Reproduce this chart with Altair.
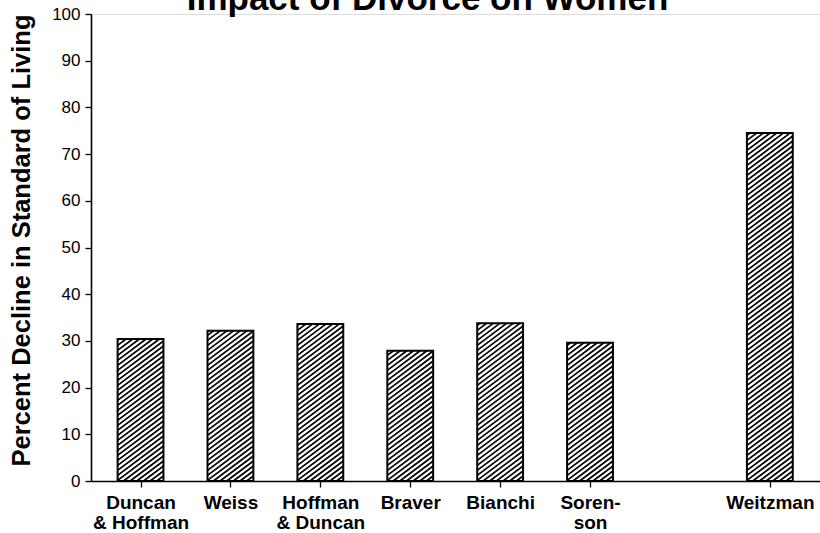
import json
import altair as alt
import pandas as pd

# ---- data ----
studies = ["Duncan & Hoffman", "Weiss", "Hoffman & Duncan", "Braver",
           "Bianchi", "Sorenson", "Weitzman"]
label_lines = [["Duncan", "& Hoffman"], ["Weiss"], ["Hoffman", "& Duncan"],
               ["Braver"], ["Bianchi"], ["Soren-", "son"], ["Weitzman"]]
decline = [30.4, 32.2, 33.6, 27.9, 33.8, 29.6, 74.5]
group = ["panel", "panel", "panel", "panel", "panel", "panel", "single"]
y_ticks = list(range(0, 101, 10))

# slot index along the axis: one empty slot between groups
slot = []
gaps = 0
for i, g in enumerate(group):
    if i > 0 and g != group[i - 1]:
        gaps += 1
    slot.append(i + gaps)

df = pd.DataFrame({"study": studies, "decline": decline, "slot": slot})

# ---- layout ----
W, H = 729, 467
X0, X1 = -0.551, 7.558          # x domain in slot units
HW = 0.255                      # half bar width, slot units
PX_X = W / (X1 - X0)
PX_Y = H / 100.0
SLOPE = 0.75                    # hatch slope in pixels (rise/run)
SPACING = 5.0                   # vertical hatch spacing in pixels
M = SLOPE * PX_X / PX_Y         # slope in data units
DELTA = SPACING / PX_Y

FONT = "Liberation Sans"

expr = "''"
for s, lines in zip(reversed(slot), reversed(label_lines)):
    expr = f"datum.value == {s} ? {json.dumps(lines)} : ({expr})"

xscale = alt.Scale(domain=[X0, X1], nice=False, zero=False)
yscale = alt.Scale(domain=[0, 100], nice=False)

x_axis = alt.Axis(
    values=slot, labelExpr=expr, title=None, grid=False,
    tickSize=6, tickColor="black", domainColor="black",
    domainWidth=1.6, tickWidth=1.3,
    labelFont=FONT, labelFontSize=19, labelFontWeight="bold",
    labelColor="black", labelLineHeight=20, labelPadding=6,
    labelFlush=False, labelOverlap=False)
y_axis = alt.Axis(
    values=y_ticks, grid=False, tickSize=6, tickColor="black",
    domainColor="black", domainWidth=1.6, tickWidth=1.3,
    labelFont=FONT, labelFontSize=17, labelColor="black",
    labelPadding=5,
    title="Percent Decline in Standard of Living",
    titleFont=FONT, titleFontSize=25.5, titleFontWeight="bold",
    titleColor="black", titlePadding=17, titleY=226)

base = alt.Chart(df).transform_calculate(
    xl=f"datum.slot - {HW}", xr=f"datum.slot + {HW}", zero="0"
)

fill = base.mark_bar(color="white", strokeWidth=0).encode(
    x=alt.X("xl:Q", scale=xscale, axis=x_axis),
    x2="xr:Q",
    y=alt.Y("decline:Q", scale=yscale, axis=y_axis, stack=None),
    y2="zero:Q",
)

hatch = base.transform_calculate(
    k="sequence(0, 120)"
).transform_flatten(["k"]).transform_calculate(
    c=f"-{M * 2 * HW} + datum.k * {DELTA}"
).transform_filter(
    "datum.c < datum.decline"
).transform_calculate(
    hx1=f"datum.xl + max(0, -datum.c / {M})",
    hy1="max(0, datum.c)",
    hx2=f"datum.xl + min({2 * HW}, (datum.decline - datum.c) / {M})",
    hy2=f"min(datum.decline, datum.c + {M * 2 * HW})",
).transform_filter("datum.hx2 > datum.hx1").mark_rule(
    color="black", strokeWidth=1.7
).encode(
    x=alt.X("hx1:Q", scale=xscale, axis=x_axis),
    x2="hx2:Q",
    y=alt.Y("hy1:Q", scale=yscale, axis=y_axis),
    y2="hy2:Q",
)

outline = base.mark_bar(fillOpacity=0, stroke="black", strokeWidth=2).encode(
    x=alt.X("xl:Q", scale=xscale, axis=x_axis),
    x2="xr:Q",
    y=alt.Y("decline:Q", scale=yscale, axis=y_axis, stack=None),
    y2="zero:Q",
)

chart = alt.layer(fill, hatch, outline).properties(
    width=W, height=H,
    title=alt.TitleParams(
        "Impact of Divorce on Women", font=FONT, fontSize=35,
        fontWeight="bold", color="black", anchor="middle", frame="group",
        baseline="alphabetic", offset=0, dy=40, dx=-28),
    autosize=alt.AutoSizeParams(type="none"),
    padding={"left": 91, "top": 14, "right": 0, "bottom": 52},
).configure_view(stroke=None).configure(background="white")

chart.save("out.html", embed_options={"renderer": "svg", "actions": False})
